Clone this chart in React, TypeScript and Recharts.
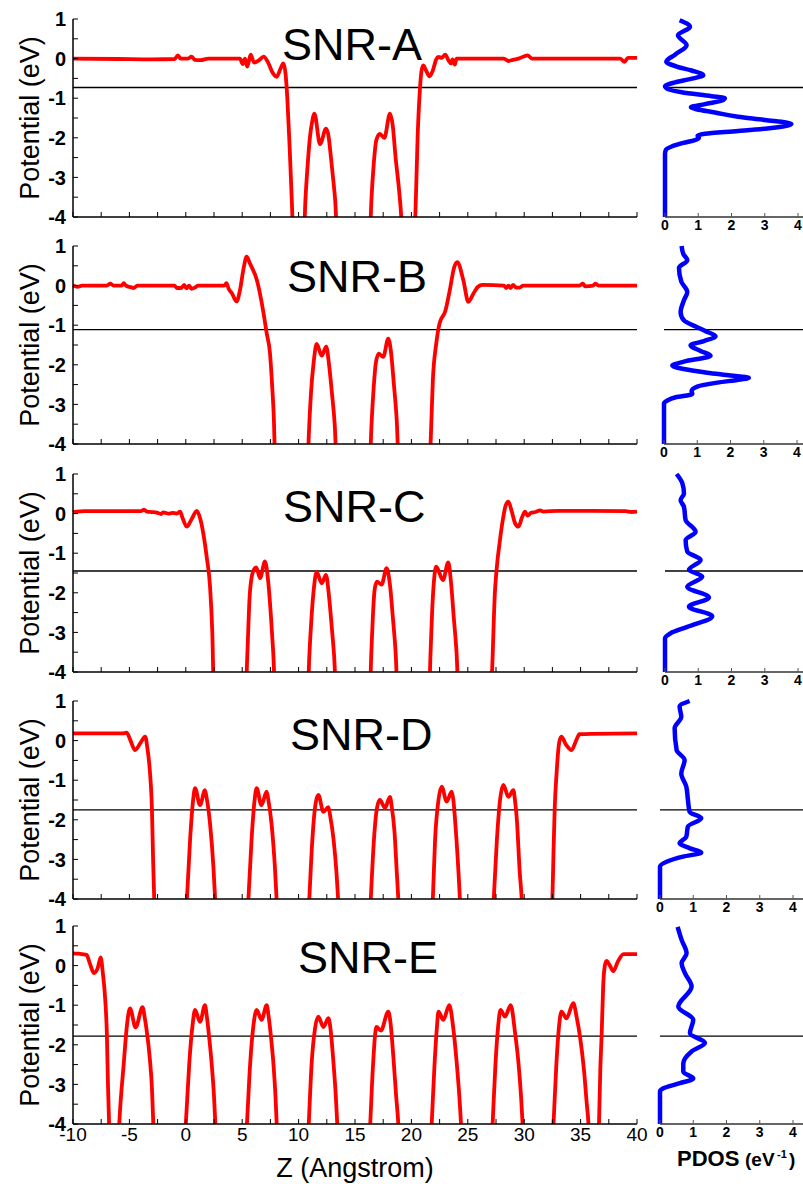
import React from "react";
import { LineChart, Line, XAxis, YAxis, ReferenceLine } from "recharts";

const FONT = '"Liberation Sans", Arial, Helvetica, sans-serif';

const titles = ["SNR-A", "SNR-B", "SNR-C", "SNR-D", "SNR-E"];
const fermiLevels = [-0.73, -1.11, -1.45, -1.75, -1.78];

const zTicks = [-10, -7.5, -5, -2.5, 0, 2.5, 5, 7.5, 10, 12.5, 15, 17.5, 20, 22.5, 25, 27.5, 30, 32.5, 35, 37.5, 40];
const eTicks = [-4, -3.5, -3, -2.5, -2, -1.5, -1, -0.5, 0, 0.5, 1];
const dosTicks = [0, 1, 2, 3, 4];

// [Z (Angstrom), potential (eV)]
const potA: [number, number][] = [
  [-10, 0], [-6, -0.01], [-3, -0.02], [-1, -0.01], [-0.7, 0.08], [-0.45, 0], [0.2, 0], [0.5, 0.05], [0.8, -0.03],
  [1.3, -0.04], [2, 0], [4.8, 0], [5.05, -0.14], [5.25, 0], [5.45, -0.2], [5.75, 0.1], [6.05, -0.1], [6.5, -0.04],
  [6.9, 0.05], [7.3, -0.1], [7.7, -0.36], [8.05, -0.46], [8.4, -0.25], [8.65, -0.12], [8.85, -0.4], [9.0, -1.0],
  [9.2, -2.2], [9.4, -3.6], [9.55, -4.6],
  [10.45, -4.6], [10.6, -3.6], [10.8, -2.7], [11.0, -2.0], [11.2, -1.6], [11.4, -1.39], [11.9, -2.16], [12.43, -1.77],
  [12.65, -1.95], [12.85, -2.45], [13.05, -3.0], [13.25, -3.6], [13.45, -4.6],
  [16.3, -4.6], [16.45, -3.6], [16.65, -2.7], [16.9, -2.05], [17.2, -1.9], [17.6, -2.0], [18.1, -1.39], [18.35, -1.7],
  [18.6, -2.5], [18.9, -3.3], [19.1, -4.0], [19.2, -4.6],
  [20.25, -4.6], [20.4, -3.5], [20.55, -2.0], [20.75, -0.8], [20.9, -0.3], [21.05, -0.17], [21.3, -0.3], [21.6, -0.45],
  [21.9, -0.3], [22.2, -0.02], [22.4, 0.04], [22.7, 0.02], [23.0, 0.1], [23.3, -0.05], [23.5, -0.12], [23.65, -0.02],
  [23.85, -0.15], [24.0, 0], [28.2, 0], [28.6, -0.06], [29.0, -0.03], [29.5, 0], [30.3, 0.08], [30.7, 0],
  [38.5, 0], [38.9, -0.08], [39.2, 0.02], [40, 0.02],
];

const potB: [number, number][] = [
  [-10, 0], [-9.6, -0.03], [-9.2, 0], [-7, 0], [-6.7, 0.05], [-6.4, 0], [-5.7, 0], [-5.5, 0.06], [-5.3, 0],
  [-4.9, -0.04], [-4.6, -0.06], [-4.3, 0], [-1, 0], [-0.8, -0.06], [-0.4, -0.06], [-0.15, 0.02], [0.05, -0.07],
  [0.3, 0], [0.5, -0.08], [0.8, -0.05], [1.1, 0], [3.4, 0], [3.6, 0.06], [3.8, -0.08], [4.1, -0.2], [4.5, -0.4],
  [4.8, -0.12], [5.1, 0.4], [5.4, 0.73], [5.7, 0.55], [6.3, 0.14], [6.9, -0.71], [7.17, -1.2], [7.46, -1.7],
  [7.65, -2.5], [7.8, -3.3], [7.95, -4.6],
  [10.8, -4.6], [10.9, -3.8], [11.1, -2.7], [11.35, -1.9], [11.6, -1.47], [12.05, -1.77], [12.45, -1.54],
  [12.7, -2.0], [12.95, -2.7], [13.2, -3.5], [13.4, -4.6],
  [16.3, -4.6], [16.45, -3.6], [16.65, -2.6], [16.85, -1.95], [17.1, -1.72], [17.5, -1.8], [17.95, -1.34],
  [18.2, -1.7], [18.45, -2.5], [18.7, -3.4], [18.9, -4.6],
  [21.6, -4.6], [21.7, -4.0], [21.9, -2.4], [22.2, -1.47], [22.5, -0.95], [23.0, -0.65], [23.4, -0.12], [23.8, 0.47],
  [24.07, 0.59], [24.6, 0.14], [25.05, -0.41], [25.5, -0.2], [25.9, -0.03], [26.3, 0.02], [28.2, 0], [28.4, -0.06],
  [28.6, 0], [28.8, -0.06], [29.0, 0.02], [29.3, -0.05], [29.6, -0.05], [29.9, 0], [34.9, 0], [35.2, 0.05],
  [35.4, -0.02], [36.1, 0], [36.3, 0.05], [36.6, 0], [40, 0],
];

const potC: [number, number][] = [
  [-10, 0.03], [-9.7, 0.05], [-9, 0.06], [-4, 0.06], [-3.7, 0.1], [-3.45, 0.05], [-3, 0.04], [-2.5, 0.02],
  [-2.2, -0.01], [-2, 0.03], [-1.5, 0], [-1.2, 0.02], [-0.8, 0], [-0.5, 0.05], [-0.3, -0.1], [0.08, -0.33],
  [0.5, -0.15], [0.97, 0.07], [1.25, -0.1], [1.55, -0.5], [1.85, -1.09], [2.15, -1.85], [2.35, -3.0], [2.5, -4.6],
  [5.3, -4.6], [5.45, -3.6], [5.68, -2.0], [5.98, -1.45], [6.25, -1.36], [6.58, -1.63], [7.02, -1.21], [7.3, -1.7],
  [7.55, -2.6], [7.75, -3.5], [7.95, -4.6],
  [10.8, -4.6], [10.95, -3.6], [11.15, -2.6], [11.35, -1.9], [11.6, -1.47], [12.05, -1.76], [12.43, -1.55],
  [12.7, -2.1], [12.95, -2.9], [13.15, -3.6], [13.35, -4.6],
  [16.3, -4.6], [16.45, -3.5], [16.6, -2.5], [16.75, -1.9], [16.95, -1.72], [17.36, -1.79], [17.8, -1.38],
  [18.1, -1.8], [18.35, -2.6], [18.6, -3.5], [18.8, -4.6],
  [21.55, -4.6], [21.7, -3.5], [21.85, -2.4], [22.0, -1.7], [22.2, -1.34], [22.8, -1.68], [23.27, -1.23],
  [23.5, -1.7], [23.75, -2.6], [24.0, -3.5], [24.2, -4.6],
  [27.05, -4.6], [27.15, -4.0], [27.4, -2.0], [27.55, -1.42], [27.85, -0.67], [28.15, -0.08], [28.35, 0.2],
  [28.6, 0.3], [28.9, 0.05], [29.2, -0.25], [29.5, -0.33], [29.8, -0.1], [30.07, 0.05], [30.3, -0.05], [30.6, 0.02],
  [31.0, 0.04], [31.4, 0.08], [31.7, 0.05], [33, 0.07], [36, 0.07], [39, 0.06], [39.5, 0.04], [40, 0.05],
];

const potD: [number, number][] = [
  [-10, 0.18], [-5.6, 0.18], [-5.25, 0.2], [-4.9, 0], [-4.5, -0.24], [-4.0, -0.05], [-3.6, 0.1], [-3.4, -0.2],
  [-3.17, -0.83], [-3.0, -1.75], [-2.9, -3.0], [-2.8, -4.0], [-2.7, -4.6],
  [0, -4.6], [0.1, -4.0], [0.38, -2.5], [0.65, -1.5], [0.82, -1.2], [1.26, -1.63], [1.7, -1.25], [1.85, -1.45],
  [2.15, -2.1], [2.45, -3.2], [2.6, -4.0], [2.7, -4.6],
  [5.45, -4.6], [5.55, -4.0], [5.83, -2.5], [6.1, -1.5], [6.28, -1.2], [6.7, -1.63], [7.17, -1.29], [7.32, -1.5],
  [7.6, -2.1], [7.9, -3.2], [8.05, -4.0], [8.15, -4.6],
  [10.85, -4.6], [10.95, -4.0], [11.22, -2.5], [11.5, -1.6], [11.75, -1.37], [12.2, -1.8], [12.64, -1.68],
  [12.8, -1.9], [13.1, -2.5], [13.35, -3.3], [13.5, -4.0], [13.6, -4.6],
  [16.3, -4.6], [16.4, -4.0], [16.68, -2.5], [16.95, -1.7], [17.2, -1.5], [17.66, -1.7], [18.1, -1.42],
  [18.25, -1.65], [18.5, -2.3], [18.7, -3.3], [18.84, -4.0], [18.95, -4.6],
  [21.8, -4.6], [21.9, -4.0], [22.1, -2.5], [22.4, -1.5], [22.68, -1.16], [23.13, -1.54], [23.57, -1.29],
  [23.72, -1.5], [23.87, -2.0], [24.17, -3.3], [24.3, -4.0], [24.4, -4.6],
  [27.2, -4.6], [27.3, -4.0], [27.58, -2.5], [27.88, -1.45], [28.15, -1.12], [28.6, -1.42], [29.04, -1.25],
  [29.18, -1.5], [29.34, -1.96], [29.6, -3.3], [29.78, -4.0], [29.88, -4.6],
  [32.4, -4.6], [32.5, -4.0], [32.6, -2.8], [32.7, -1.75], [32.87, -0.83], [33.1, -0.05], [33.3, 0.1],
  [33.7, -0.1], [34.2, -0.24], [34.6, 0], [34.9, 0.16], [36, 0.17], [40, 0.18],
];

const potE: [number, number][] = [
  [-10, 0.31], [-9.5, 0.3], [-8.8, 0.27], [-8.5, 0.05], [-8.14, -0.19], [-7.8, -0.05], [-7.55, 0.21],
  [-7.35, -0.2], [-7.16, -0.79], [-7.0, -1.71], [-6.9, -3.0], [-6.8, -4.0], [-6.72, -4.6],
  [-6.0, -4.6], [-5.9, -4.0], [-5.5, -2.47], [-5.2, -1.46], [-4.95, -1.08], [-4.45, -1.56], [-3.83, -1.05],
  [-3.65, -1.3], [-3.47, -1.63], [-3.18, -2.38], [-3.0, -3.1], [-2.88, -4.0], [-2.8, -4.6],
  [-0.1, -4.6], [0, -4.0], [0.3, -2.5], [0.6, -1.5], [0.82, -1.12], [1.26, -1.42], [1.7, -1.0], [1.87, -1.3],
  [2.05, -1.75], [2.3, -2.5], [2.5, -3.3], [2.62, -4.0], [2.72, -4.6],
  [5.3, -4.6], [5.42, -4.0], [5.7, -2.5], [6.0, -1.5], [6.28, -1.12], [6.72, -1.37], [7.17, -1.0], [7.35, -1.3],
  [7.55, -1.8], [7.8, -2.6], [7.95, -3.3], [8.06, -4.0], [8.15, -4.6],
  [10.8, -4.6], [10.9, -4.0], [11.15, -2.5], [11.45, -1.6], [11.75, -1.29], [12.2, -1.55], [12.64, -1.33],
  [12.85, -1.65], [13.05, -2.3], [13.3, -3.3], [13.43, -4.0], [13.53, -4.6],
  [16.25, -4.6], [16.35, -4.0], [16.6, -2.5], [16.9, -1.55], [17.3, -1.64], [17.95, -1.16], [18.15, -1.45],
  [18.4, -2.3], [18.65, -3.3], [18.84, -4.0], [18.94, -4.6],
  [21.7, -4.6], [21.8, -4.0], [22.05, -2.5], [22.25, -1.6], [22.4, -1.16], [22.83, -1.37], [23.36, -1.0],
  [23.7, -1.55], [24.0, -2.4], [24.25, -3.3], [24.4, -4.0], [24.5, -4.6],
  [27.1, -4.6], [27.2, -4.0], [27.45, -2.5], [27.7, -1.5], [27.9, -1.12], [28.3, -1.29], [28.8, -1.0],
  [29.2, -1.72], [29.5, -2.48], [29.72, -3.3], [29.86, -4.0], [29.96, -4.6],
  [32.5, -4.6], [32.6, -4.0], [32.85, -2.5], [33.1, -1.5], [33.3, -1.16], [33.75, -1.33], [34.35, -0.95],
  [34.65, -1.3], [34.95, -1.8], [35.3, -2.64], [35.55, -3.5], [35.7, -4.0], [35.8, -4.6],
  [36.55, -4.6], [36.63, -4.0], [36.75, -2.6], [36.87, -1.71], [37.0, -0.53], [37.15, 0], [37.3, 0.12],
  [37.6, 0], [37.9, -0.14], [38.3, 0.1], [38.8, 0.29], [40, 0.29],
];

// [energy (eV), PDOS (1/eV)], energy ascending
const dosA: [number, number][] = [
  [-4, 0], [-2.4, 0], [-2.3, 0.03], [-2.22, 0.2], [-2.13, 0.55], [-2.06, 0.9], [-2.0, 1.02], [-1.95, 0.98],
  [-1.9, 1.2], [-1.83, 2.2], [-1.75, 3.2], [-1.65, 3.8], [-1.55, 3.0], [-1.47, 2.2], [-1.36, 1.5], [-1.28, 0.95],
  [-1.23, 0.78], [-1.15, 1.2], [-1.05, 1.75], [-1.0, 1.8], [-0.95, 1.4], [-0.85, 0.5], [-0.78, 0.12], [-0.7, 0],
  [-0.6, 0.3], [-0.5, 0.85], [-0.42, 1.15], [-0.3, 0.8], [-0.2, 0.35], [-0.08, 0.04], [0.1, 0.3], [0.34, 0.65],
  [0.59, 0.39], [0.8, 0.75], [0.97, 0.44],
];

const dosB: [number, number][] = [
  [-4, 0], [-2.97, 0], [-2.9, 0.1], [-2.82, 0.35], [-2.74, 0.85], [-2.66, 0.83], [-2.55, 1.0], [-2.45, 1.6],
  [-2.37, 2.3], [-2.33, 2.55], [-2.27, 2.0], [-2.2, 1.3], [-2.1, 0.55], [-2.02, 0.25], [-1.92, 0.6], [-1.77, 1.4],
  [-1.65, 1.1], [-1.51, 0.8], [-1.4, 1.2], [-1.28, 1.55], [-1.15, 1.25], [-1.05, 1.0], [-0.88, 0.6], [-0.67, 0.5],
  [-0.37, 0.6], [-0.16, 0.7], [0.1, 0.52], [0.45, 0.45], [0.64, 0.7], [0.8, 0.58], [1.0, 0.53],
];

const dosC: [number, number][] = [
  [-4, 0], [-3.15, 0], [-3.02, 0.17], [-2.86, 0.67], [-2.59, 1.42], [-2.35, 0.72], [-2.12, 1.32], [-1.85, 0.67],
  [-1.59, 1.12], [-1.42, 0.72], [-1.17, 1.07], [-0.96, 0.67], [-0.67, 0.62], [-0.46, 0.92], [-0.16, 0.62],
  [0.17, 0.57], [0.34, 0.47], [0.51, 0.57], [0.77, 0.52], [1.0, 0.35],
];

const dosD: [number, number][] = [
  [-4, 0], [-3.18, 0], [-3.06, 0.2], [-2.93, 0.69], [-2.83, 1.24], [-2.72, 0.9], [-2.59, 0.59], [-2.43, 0.79],
  [-2.17, 0.84], [-1.96, 1.24], [-1.8, 0.89], [-1.5, 0.84], [-1.16, 0.79], [-0.83, 0.64], [-0.49, 0.74],
  [-0.24, 0.5], [0.31, 0.44], [0.6, 0.64], [0.86, 0.59], [1.0, 0.89],
];

const dosE: [number, number][] = [
  [-4, 0], [-3.18, 0], [-3.1, 0.1], [-2.97, 0.6], [-2.85, 1.0], [-2.68, 0.7], [-2.47, 0.7], [-2.17, 0.95],
  [-1.95, 1.35], [-1.71, 0.9], [-1.37, 1.0], [-1.04, 0.55], [-0.53, 0.95], [-0.19, 0.75], [0.06, 0.65],
  [0.31, 0.8], [0.65, 0.65], [0.98, 0.53],
];

const potentials = [potA, potB, potC, potD, potE];
const pdos = [dosA, dosB, dosC, dosD, dosE];

// page layout (pixels)
const rowTops = [19, 246, 474, 701, 926];
const titleXs = [282, 287, 283, 290, 298];
const titleYs = [60, 292, 522, 750, 973];
const dosLefts = [665, 663.5, 664.5, 660, 660];
const PLOT_H = 198;

const axisStyle = { stroke: "#000", strokeWidth: 1.5 };
const tickStyle = { stroke: "#000", strokeWidth: 1 };

function PotentialPanel({ i }: { i: number }) {
  const last = i === 4;
  const data = potentials[i].map(([z, v]) => ({ z, v }));
  return (
    <div style={{ position: "absolute", left: 0, top: rowTops[i] - 10 }}>
      <LineChart width={660} height={10 + PLOT_H + 30} data={data} margin={{ top: 10, right: 23, bottom: 0, left: 0 }}>
        <XAxis
          xAxisId="b"
          dataKey="z"
          type="number"
          domain={[-10, 40]}
          ticks={zTicks}
          interval={0}
          height={30}
          tickSize={-5}
          tickMargin={9}
          axisLine={axisStyle}
          tickLine={tickStyle}
          tick={{ fill: "#000", fontSize: 19, fontFamily: FONT }}
          tickFormatter={(t: number) => (last && t % 5 === 0 ? String(t) : "")}
        />
        <XAxis
          xAxisId="t"
          orientation="top"
          dataKey="z"
          type="number"
          domain={[-10, 40]}
          ticks={zTicks}
          interval={0}
          height={0}
          tickSize={-5}
          axisLine={axisStyle}
          tickLine={tickStyle}
          tick={false}
        />
        <YAxis
          yAxisId="l"
          type="number"
          domain={[-4, 1]}
          ticks={eTicks}
          interval={0}
          allowDataOverflow
          width={73}
          tickSize={-5}
          tickMargin={12}
          axisLine={axisStyle}
          tickLine={tickStyle}
          tick={{ fill: "#000", fontSize: 20, fontWeight: 700, fontFamily: FONT }}
          tickFormatter={(t: number) => (Number.isInteger(t) ? String(t) : "")}
        />
        <YAxis
          yAxisId="r"
          orientation="right"
          type="number"
          domain={[-4, 1]}
          ticks={eTicks}
          interval={0}
          width={0}
          tickSize={-5}
          axisLine={axisStyle}
          tickLine={tickStyle}
          tick={false}
        />
        <ReferenceLine xAxisId="b" yAxisId="l" y={fermiLevels[i]} stroke="#000" strokeWidth={1.3} />
        <Line
          xAxisId="b"
          yAxisId="l"
          dataKey="v"
          type="monotone"
          stroke="#ff0000"
          strokeWidth={3.8}
          dot={false}
          activeDot={false}
          isAnimationActive={false}
        />
      </LineChart>
    </div>
  );
}

function DosPanel({ i }: { i: number }) {
  const data = pdos[i].map(([e, d]) => ({ e, d }));
  return (
    <div style={{ position: "absolute", left: dosLefts[i] - 10, top: rowTops[i] - 10 }}>
      <LineChart width={163} height={10 + PLOT_H + 30} data={data} margin={{ top: 10, right: 10, bottom: 0, left: 10 }}>
        <XAxis
          xAxisId="b"
          dataKey="d"
          type="number"
          domain={[0, 4.3]}
          ticks={dosTicks}
          interval={0}
          height={30}
          tickSize={-4}
          tickMargin={7}
          axisLine={{ stroke: "#333", strokeWidth: 1.3 }}
          tickLine={{ stroke: "#555", strokeWidth: 1 }}
          tick={{ fill: "#000", fontSize: 14, fontWeight: 700, fontFamily: FONT }}
        />
        <XAxis
          xAxisId="t"
          orientation="top"
          dataKey="d"
          type="number"
          domain={[0, 4.3]}
          ticks={dosTicks}
          interval={0}
          height={0}
          tickSize={-4}
          axisLine={{ stroke: "#666", strokeWidth: 1.3 }}
          tickLine={{ stroke: "#666", strokeWidth: 1 }}
          tick={false}
        />
        <YAxis
          yAxisId="l"
          type="number"
          domain={[-4, 1]}
          ticks={eTicks}
          interval={0}
          width={0}
          tickSize={-4}
          axisLine={{ stroke: "#777", strokeWidth: 1.3 }}
          tickLine={{ stroke: "#666", strokeWidth: 1 }}
          tick={false}
        />
        <ReferenceLine xAxisId="b" yAxisId="l" y={fermiLevels[i]} stroke="#000" strokeWidth={1.3} />
        <Line
          xAxisId="b"
          yAxisId="l"
          dataKey="e"
          type="monotoneY"
          stroke="#0000ff"
          strokeWidth={4.5}
          dot={false}
          activeDot={false}
          isAnimationActive={false}
        />
      </LineChart>
    </div>
  );
}

export default function App() {
  return (
    <div
      style={{
        position: "absolute",
        left: 0,
        top: 0,
        width: 803,
        height: 1184,
        overflow: "hidden",
        background: "#fff",
        fontFamily: FONT,
      }}
    >
      {titles.map((_, i) => (
        <React.Fragment key={i}>
          <PotentialPanel i={i} />
          <DosPanel i={i} />
        </React.Fragment>
      ))}
      <svg
        width={803}
        height={1184}
        style={{ position: "absolute", left: 0, top: 0, pointerEvents: "none" }}
        fontFamily={FONT}
      >
        {titles.map((t, i) => (
          <g key={t}>
            <text x={titleXs[i]} y={titleYs[i]} fontSize={45} fill="#000">
              {t}
            </text>
            <text
              transform={`translate(38.5, ${rowTops[i] + PLOT_H / 2}) rotate(-90)`}
              textAnchor="middle"
              fontSize={27}
              fill="#000"
            >
              Potential (eV)
            </text>
          </g>
        ))}
        <text x={355} y={1177} textAnchor="middle" fontSize={27} fill="#000">
          Z (Angstrom)
        </text>
        <text x={677} y={1166} fontSize={22} fontWeight={700} fill="#000">
          PDOS
          <tspan x={745} fontSize={19}>(eV</tspan>
          <tspan x={777} dy={-8} fontSize={11}>-1</tspan>
          <tspan x={789} dy={8} fontSize={19}>)</tspan>
        </text>
      </svg>
    </div>
  );
}
